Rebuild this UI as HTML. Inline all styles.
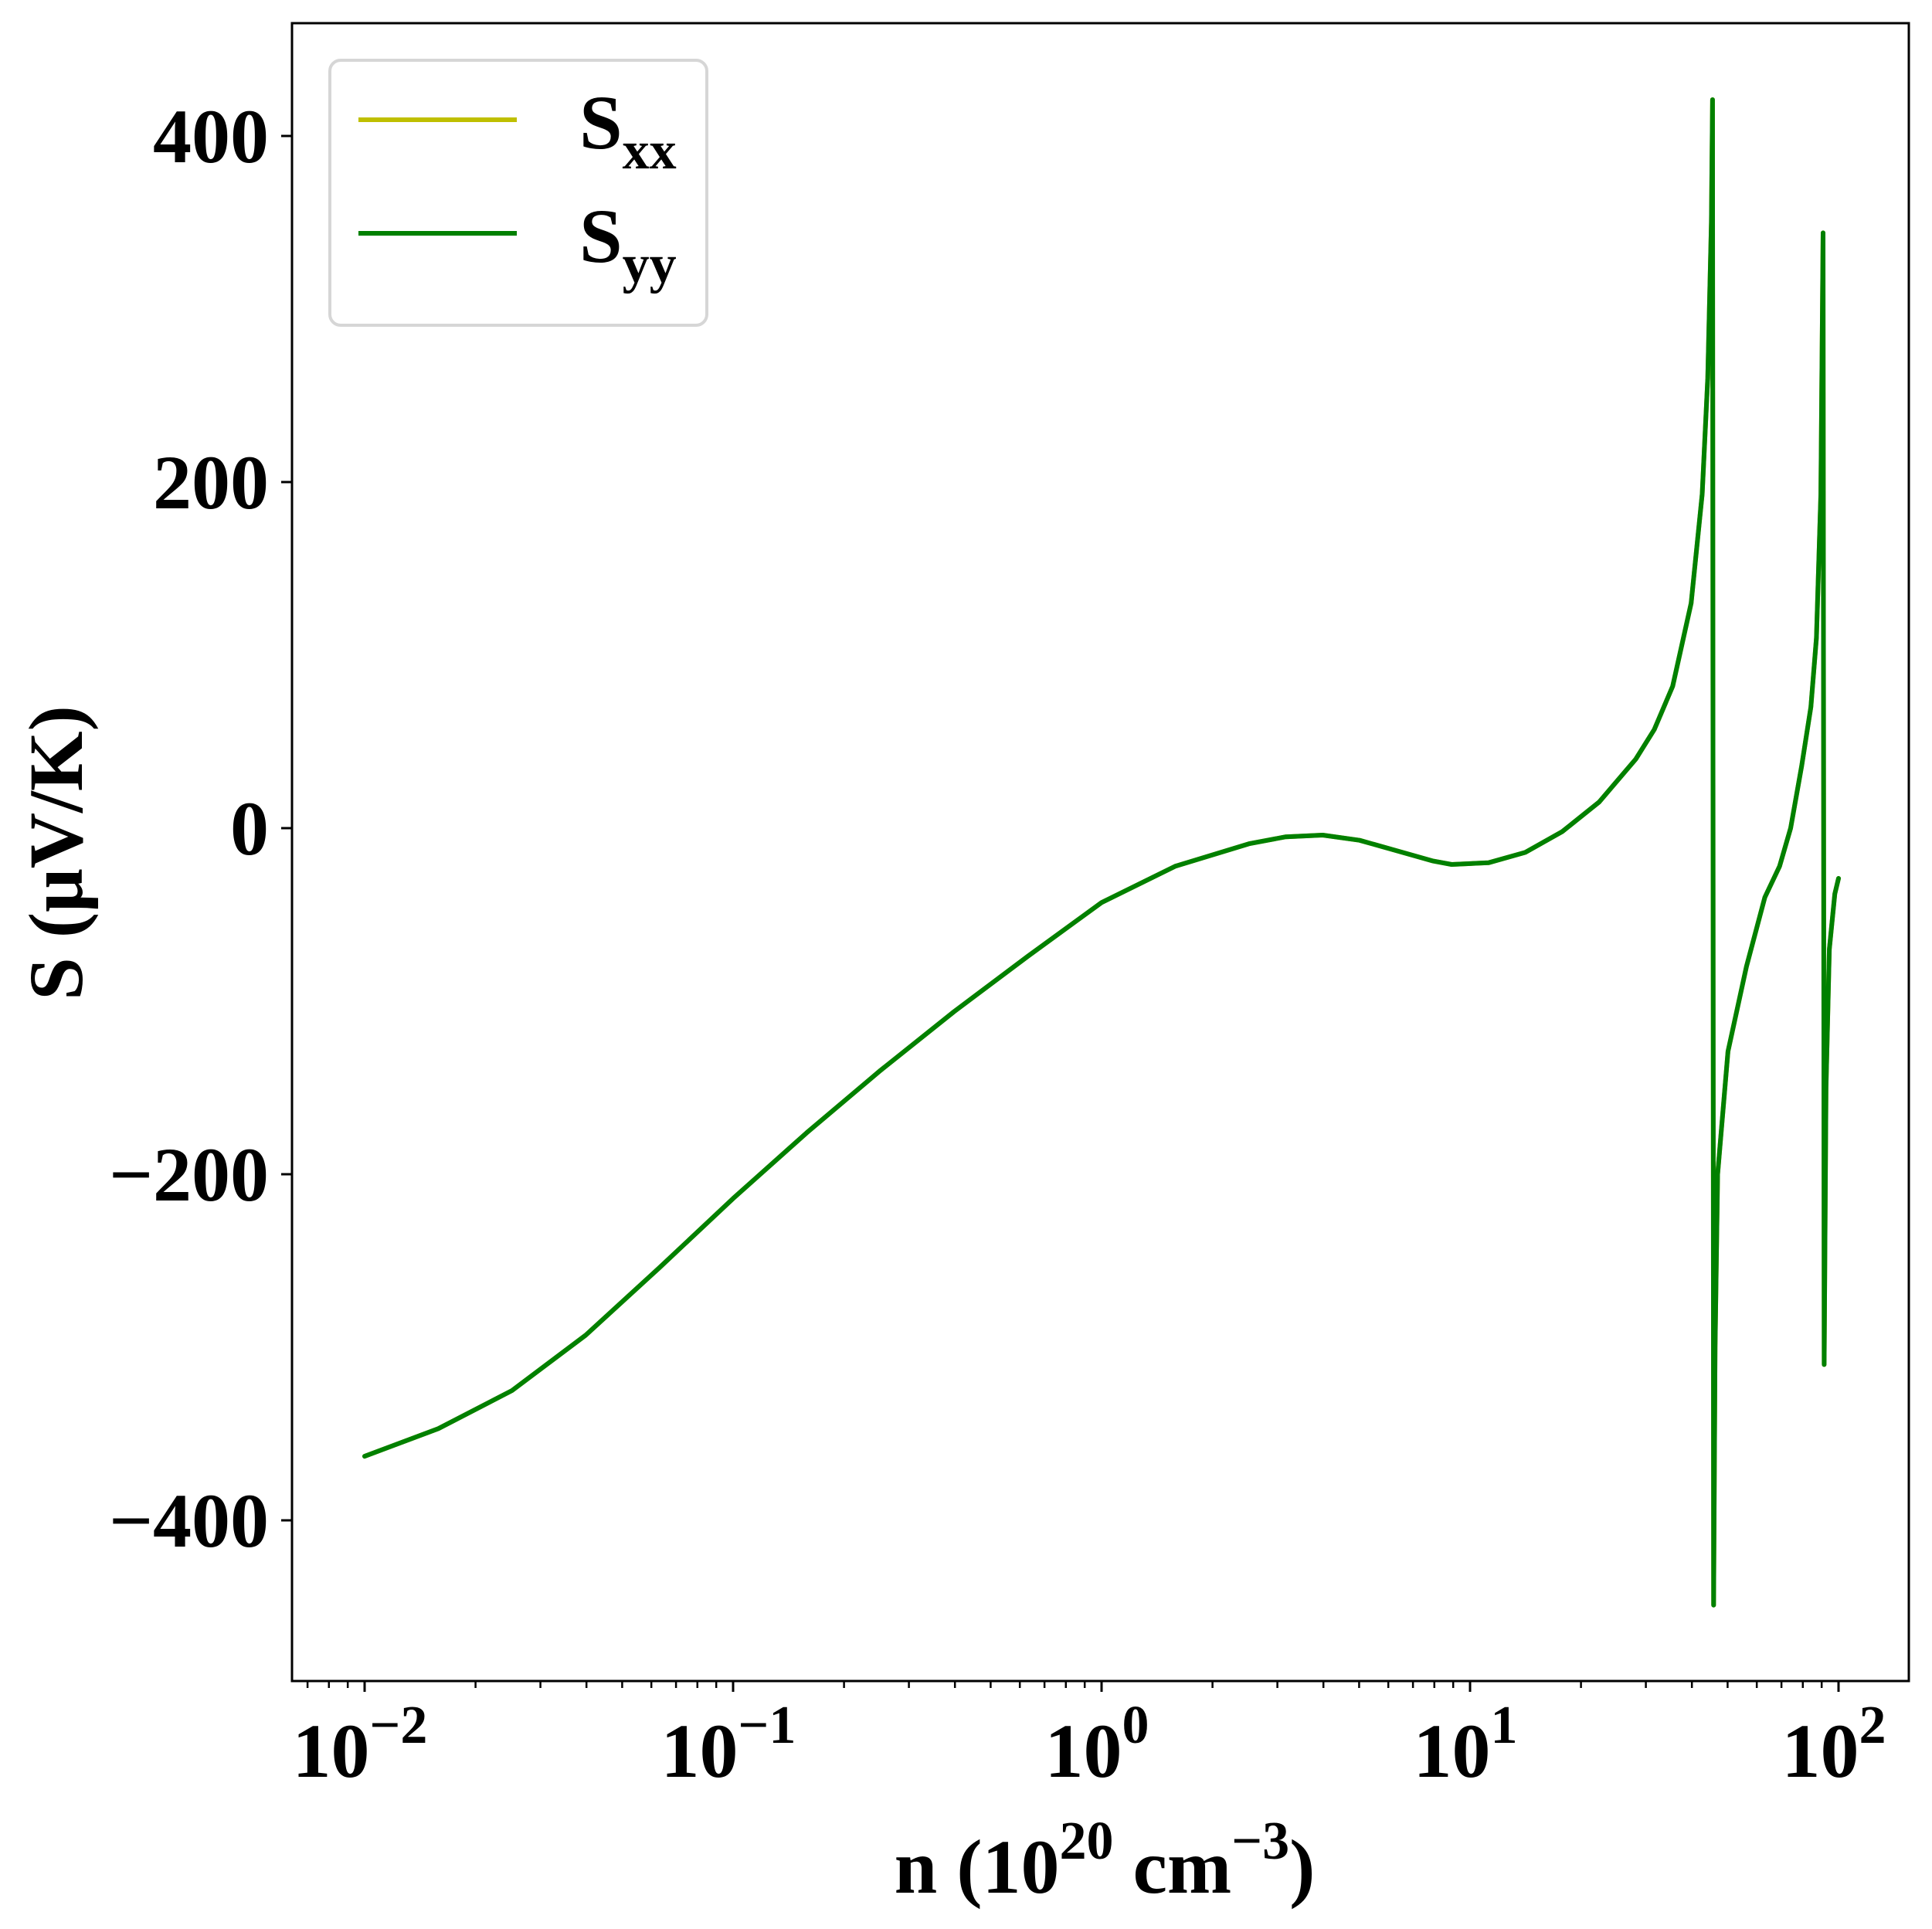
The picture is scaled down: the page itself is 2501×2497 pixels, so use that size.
<!DOCTYPE html>
<html><head><meta charset="utf-8"><style>
body{margin:0;background:#fff}
svg text{font-family:"Liberation Serif","Times New Roman",Times,serif;font-weight:700;fill:#000}
</style></head><body>
<svg id="chart" width="2501" height="2492" viewBox="0 0 2501 2492" xmlns="http://www.w3.org/2000/svg">
<rect x="378" y="30" width="2093" height="2146" fill="#fff" stroke="#000" stroke-width="3"/>
<g id="ticks"></g>
<g id="series"></g>
<text x="1430" y="2450" font-size="100" text-anchor="middle">n (10<tspan font-size="70" dy="-44">20</tspan><tspan dy="44"> cm</tspan><tspan font-size="70" dy="-44">−3</tspan><tspan dy="44">)</tspan></text>
<text transform="translate(106,1104) rotate(-90)" font-size="100" text-anchor="middle">S (μV/K)</text>
<g>
<rect x="427" y="78" width="488" height="343" rx="14" fill="#fff" stroke="#d6d6d6" stroke-width="4"/>
<line x1="464" y1="155" x2="669" y2="155" stroke="#bfbf00" stroke-width="6"/>
<text x="750" y="192" font-size="100">S<tspan font-size="70" dy="26">xx</tspan></text>
<line x1="464" y1="302" x2="669" y2="302" stroke="#008000" stroke-width="6"/>
<text x="750" y="339" font-size="100">S<tspan font-size="70" dy="26">yy</tspan></text>
</g>
</svg>
<script>
const logN=[-2.0,-1.8,-1.6,-1.4,-1.2,-1.0,-0.8,-0.6,-0.4,-0.2,0.0,0.2,0.4,0.5,0.6,0.7,0.8,0.9,0.95,1.05,1.15,1.25,1.35,1.45,1.5,1.55,1.6,1.63,1.645,1.655,1.658,1.661,1.665,1.672,1.7,1.75,1.8,1.84,1.87,1.9,1.925,1.94,1.952,1.958,1.961,1.966,1.975,1.99,2.0];
const sxx=[-363,-347,-325,-293,-254,-214,-176,-140,-106,-74,-43,-22,-9,-5,-4,-7,-13,-19,-21,-20,-14,-2,15,40,57,82,130,193,260,350,421,-449,-300,-200,-129,-80,-40,-22,0,36,70,110,193,344,-310,-150,-70,-38,-29];
const syy=[-363,-347,-325,-293,-254,-214,-176,-140,-106,-74,-43,-22,-9,-5,-4,-7,-13,-19,-21,-20,-14,-2,15,40,57,82,130,193,260,350,421,-449,-300,-200,-129,-80,-40,-22,0,36,70,110,193,344,-310,-150,-70,-38,-29];
const yTicks=[-400,-200,0,200,400];
const yTickLabels=["−400","−200","0","200","400"];
const xTicks=[-2,-1,0,1,2];
const xTickLabels=["−2","−1","0","1","2"];
const NS="http://www.w3.org/2000/svg";
function xs(l){return 472+(l+2)*477;}
function ys(v){return 1072-v*2.24;}
function mk(t,a,p){const e=document.createElementNS(NS,t);for(const k in a)e.setAttribute(k,a[k]);p.appendChild(e);return e;}
const tg=document.getElementById('ticks');
yTicks.forEach((v,i)=>{
 const l=mk('line',{x1:364,x2:378,y1:ys(v),y2:ys(v),stroke:'#000','stroke-width':3},tg);
 
 
 const t=mk('text',{x:348,y:ys(v)+34,'font-size':100,'text-anchor':'end'},tg);
 
 
 t.textContent=yTickLabels[i];
});
for(let d=-3;d<=2;d++){for(let m=2;m<=9;m++){const l=Math.log10(m)+d;const x=xs(l);if(x<378||x>2471)continue;
 const e=mk('line',{x1:x,x2:x,y1:2176,y2:2185,stroke:'#000','stroke-width':2.5},tg);
 
 }}
xTicks.forEach((v,i)=>{
 const e=mk('line',{x1:xs(v),x2:xs(v),y1:2176,y2:2190,stroke:'#000','stroke-width':3},tg);
 
 
 const t=mk('text',{x:xs(v)-6,y:2300,'font-size':100,'text-anchor':'middle'},tg);
 
 
 t.innerHTML='10<tspan font-size="70" dy="-44">'+xTickLabels[i]+'</tspan>';
});
const sg=document.getElementById('series');
function path(vals){return vals.map((v,i)=>(i?'L':'M')+xs(logN[i]).toFixed(1)+','+ys(v).toFixed(1)).join(' ');}
const p1=mk('path',{d:path(sxx),fill:'none',stroke:'#bfbf00','stroke-width':6,'stroke-linejoin':'round','stroke-linecap':'round'},sg);


const p2=mk('path',{d:path(syy),fill:'none',stroke:'#008000','stroke-width':6,'stroke-linejoin':'round','stroke-linecap':'round'},sg);


</script>
</body></html>
